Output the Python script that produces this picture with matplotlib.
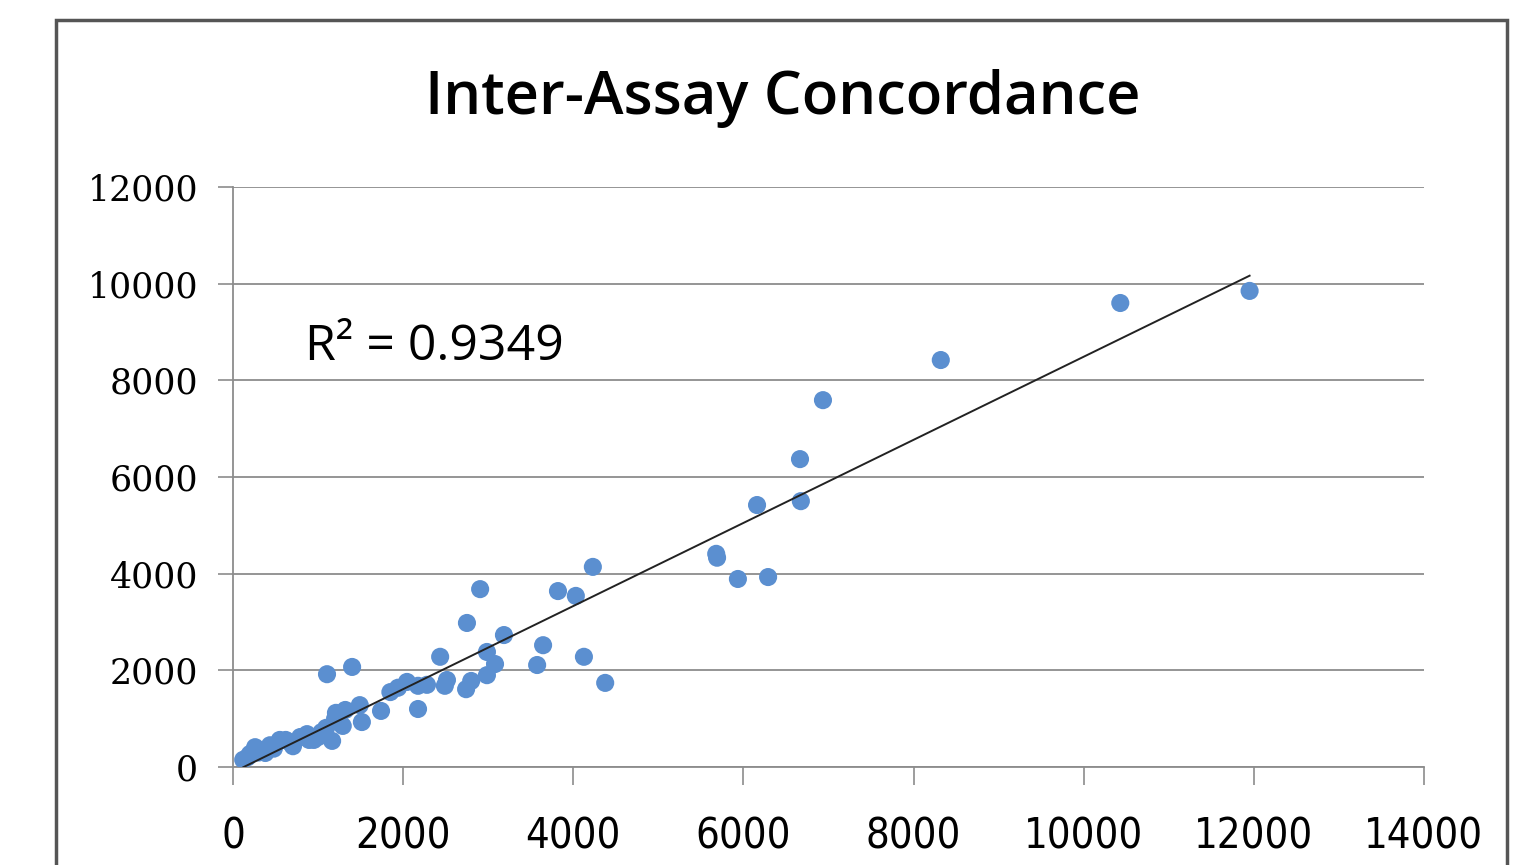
import matplotlib.pyplot as plt
import matplotlib.patches as patches
import numpy as np

# assay A (x) vs assay B (y)
assay_a = [11950, 10430, 8320, 6935, 6665, 6675, 6160, 5680, 5690, 5935, 6290,
           4230, 3820, 4030, 2905, 2750, 3185, 3645, 2985, 2435, 3575, 3080,
           4125, 4375, 2985, 2800, 2740, 2515, 2490, 2280, 2175, 2045, 1940,
           1850, 2175, 1740, 1400, 1105, 1490, 1515, 1320, 1210, 1290, 1165,
           1095, 1000, 895, 790, 705, 550, 435, 340, 260, 200, 120, 300, 620,
           380, 480, 660, 870, 950, 1040, 170, 1200]
assay_b = [9850, 9600, 8420, 7590, 6370, 5500, 5420, 4410, 4330, 3890, 3930,
           4140, 3640, 3540, 3680, 2980, 2730, 2520, 2380, 2280, 2110, 2130,
           2280, 1740, 1900, 1780, 1610, 1800, 1680, 1700, 1680, 1760, 1640,
           1550, 1200, 1160, 2070, 1920, 1280, 930, 1180, 1120, 850, 540,
           810, 620, 560, 620, 430, 560, 450, 350, 410, 270, 150, 300, 560,
           290, 380, 520, 680, 560, 720, 200, 1000]
r2_text = "R\u00b2 = 0.9349"
title = "Inter-Assay Concordance"
x_ticks = [0, 2000, 4000, 6000, 8000, 10000, 12000, 14000]
y_ticks = [0, 2000, 4000, 6000, 8000, 10000, 12000]

x = np.array(assay_a)
y = np.array(assay_b)
slope, intercept = np.polyfit(x, y, 1)
fit_x = np.array([x.min(), x.max()])
fit_y = slope * fit_x + intercept

fig = plt.figure(figsize=(15.22, 8.65), dpi=100)
ax = fig.add_axes([233 / 1522, 1 - 767 / 865, (1424 - 233) / 1522, (767 - 187) / 865])

grey = '#8c8c8c'
ax.scatter(x, y, s=170, color='#5b8fd0', edgecolors='none', zorder=3)
ax.plot(fit_x, fit_y, color='#222222', linewidth=1.4, zorder=4)

ax.set_xlim(0, 14000)
ax.set_ylim(0, 12000)
ax.set_xticks(x_ticks)
ax.set_yticks(y_ticks)
ax.set_xticklabels([str(t) for t in x_ticks], family='DejaVu Sans',
                   fontstretch='condensed', fontsize=30)
ax.set_yticklabels([str(t) for t in y_ticks], family='DejaVu Serif', fontsize=25)
ax.tick_params(axis='x', direction='out', length=13, width=1.2, color=grey, pad=22)
ax.tick_params(axis='y', direction='out', length=11, width=1.2, color=grey, pad=14)
ax.yaxis.grid(True, color=grey, linewidth=1.3)
ax.set_axisbelow(True)
for side in ['top', 'right']:
    ax.spines[side].set_visible(False)
for side in ['left', 'bottom']:
    ax.spines[side].set_color(grey)
    ax.spines[side].set_linewidth(1.3)

fig.text(305 / 1522, 1 - 347 / 865, r2_text, fontsize=36, family='Open Sans',
         va='center', ha='left')
fig.text(783 / 1522, 1 - 99 / 865, title, fontsize=43, family='Open Sans',
         fontweight='semibold', ha='center', va='center')

# outer chart frame (bottom edge cut off like the reference)
frame = patches.Rectangle((56 / 1522, -0.05), (1507 - 56) / 1522, 1.05 - 20 / 865,
                          transform=fig.transFigure, fill=False,
                          edgecolor='#555555', linewidth=2.5)
fig.patches.append(frame)

fig.savefig('out.png', dpi=100)
